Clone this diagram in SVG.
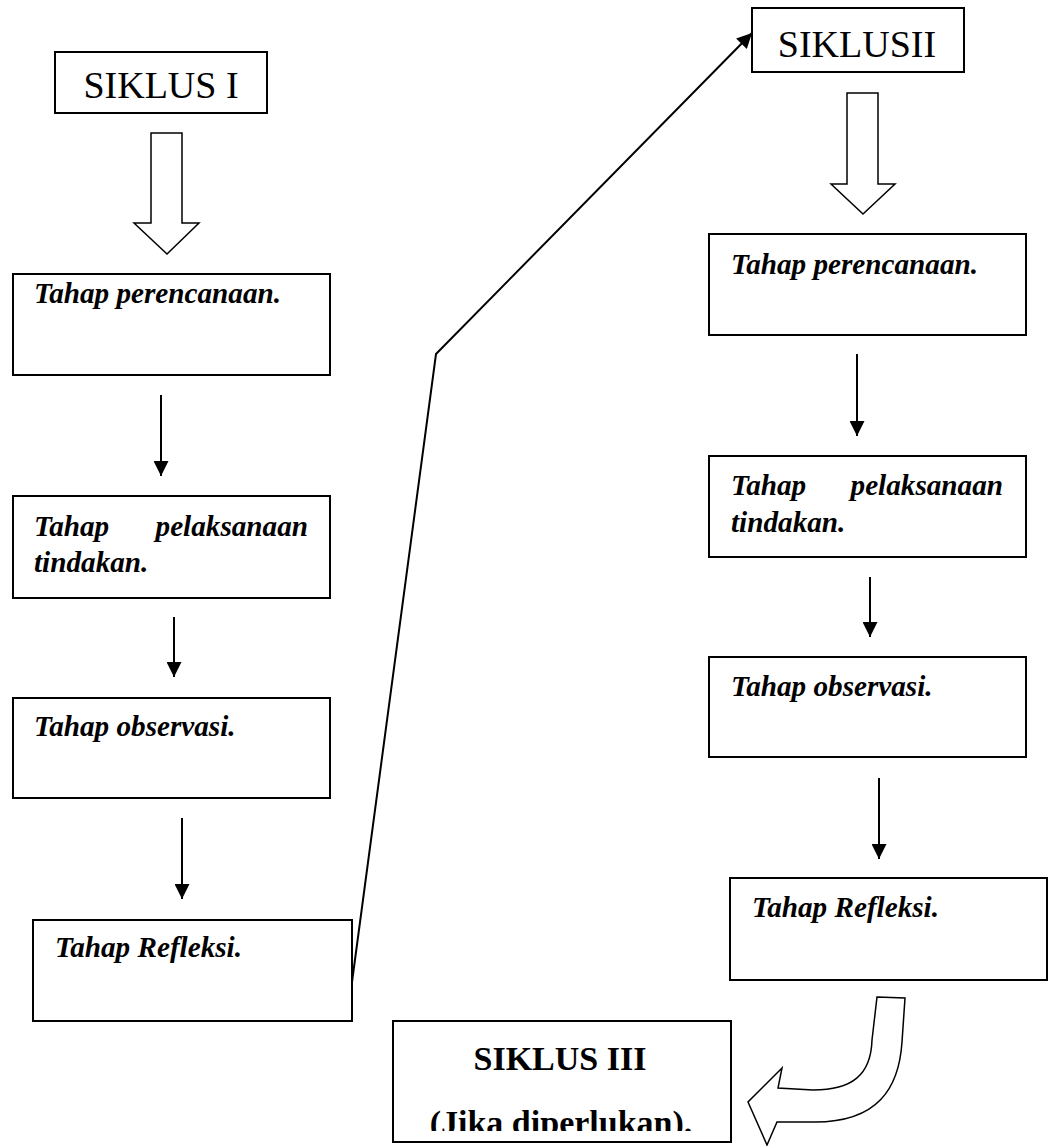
<svg xmlns="http://www.w3.org/2000/svg" width="1049" height="1146" viewBox="0 0 1049 1146">
<style>
.box{fill:#fff;stroke:#000;stroke-width:2}
.blk{fill:#fff;stroke:#000;stroke-width:1.5;stroke-linejoin:miter}
.con{fill:none;stroke:#000;stroke-width:2}
.t{font-family:"Liberation Serif","Times New Roman",serif;font-size:29.2px;font-weight:bold;font-style:italic;fill:#000}
.h{font-family:"Liberation Serif","Times New Roman",serif;font-size:38px;fill:#000}
.hb{font-family:"Liberation Serif","Times New Roman",serif;font-size:34px;font-weight:bold;fill:#000}
</style>
<defs>
<marker id="ah2" viewBox="0 0 10 10" refX="10" refY="5" markerWidth="17" markerHeight="15" markerUnits="userSpaceOnUse" orient="auto"><path d="M0,0 L10,5 L0,10 Z" fill="#000"/></marker>
<clipPath id="c3"><rect x="393" y="1021" width="338" height="110"/></clipPath>
</defs>

<g id="siklus1"><rect class="box" x="55" y="52" width="212" height="61"/><text class="h" x="161" y="98" text-anchor="middle">SIKLUS I</text></g>
<g id="l-plan"><rect class="box" x="13" y="274" width="317" height="101"/><text class="t" x="34" y="303">Tahap perencanaan.</text></g>
<g id="l-act"><rect class="box" x="13" y="496" width="317" height="102"/><text class="t" x="34" y="536">Tahap</text><text class="t" x="308" y="536" text-anchor="end">pelaksanaan</text><text class="t" x="34" y="572">tindakan.</text></g>
<g id="l-obs"><rect class="box" x="13" y="698" width="317" height="100"/><text class="t" x="34" y="736">Tahap observasi.</text></g>
<g id="l-ref"><rect class="box" x="33" y="920" width="319" height="101"/><text class="t" x="55" y="957">Tahap Refleksi.</text></g>

<g id="siklus2"><rect class="box" x="752" y="8" width="212" height="64"/><text class="h" x="857" y="57" text-anchor="middle">SIKLUSII</text></g>
<g id="r-plan"><rect class="box" x="709" y="234" width="317" height="101"/><text class="t" x="731" y="274">Tahap perencanaan.</text></g>
<g id="r-act"><rect class="box" x="709" y="456" width="317" height="101"/><text class="t" x="731" y="495">Tahap</text><text class="t" x="1003" y="495" text-anchor="end">pelaksanaan</text><text class="t" x="731" y="532">tindakan.</text></g>
<g id="r-obs"><rect class="box" x="709" y="657" width="317" height="100"/><text class="t" x="731" y="696">Tahap observasi.</text></g>
<g id="r-ref"><rect class="box" x="730" y="878" width="317" height="102"/><text class="t" x="752" y="917">Tahap Refleksi.</text></g>

<g id="siklus3"><rect class="box" x="393" y="1021" width="338" height="121"/><text class="hb" x="560" y="1070" text-anchor="middle">SIKLUS III</text><text class="hb" x="561" y="1134" text-anchor="middle" clip-path="url(#c3)">(Jika diperlukan).</text></g>

<g id="connectors">
<path class="blk" d="M151,133 H182 V223 H199 L167,254 L134,223 H151 Z"/>
<path class="blk" d="M847,93 H878 V184 H895 L863,214 L831,184 H847 Z"/>
<line class="con" x1="161" y1="395" x2="161" y2="476" marker-end="url(#ah2)"/>
<line class="con" x1="174" y1="617" x2="174" y2="677" marker-end="url(#ah2)"/>
<line class="con" x1="182" y1="818" x2="182" y2="899" marker-end="url(#ah2)"/>
<line class="con" x1="857" y1="354" x2="857" y2="436" marker-end="url(#ah2)"/>
<line class="con" x1="870" y1="577" x2="870" y2="637" marker-end="url(#ah2)"/>
<line class="con" x1="879" y1="778" x2="879" y2="859" marker-end="url(#ah2)"/>
<polyline class="con" points="352,982 436,354 752,33" marker-end="url(#ah2)"/>
<path class="blk" d="M877,997 L905,998 L902,1042 C899,1088 878,1122 815,1122 L777,1122 L767,1145 L748,1102 L782,1068 L778,1088 L813,1090 C852,1090 871,1075 872,1040 Z"/>
</g>
</svg>
